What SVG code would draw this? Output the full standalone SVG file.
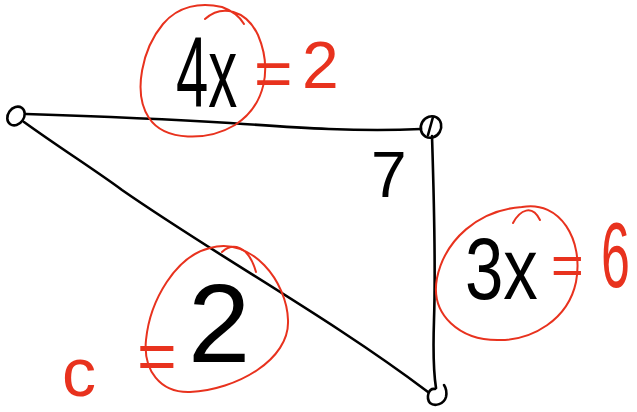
<svg xmlns="http://www.w3.org/2000/svg" width="637" height="412" viewBox="0 0 637 412">
<style>
.ink{fill:none;stroke:#000;stroke-width:2.6;stroke-linecap:round;stroke-linejoin:round}
.red{fill:none;stroke:#e8321e;stroke-width:2;stroke-linecap:round;stroke-linejoin:round}
.bt{font-family:"Liberation Sans",Arial,sans-serif;fill:#000}
.rt{font-family:"Liberation Sans",Arial,sans-serif;fill:#e8321e}
</style>
<rect width="637" height="412" fill="#fff"/>
<g id="connectors">
<path class="ink" d="M26,114 C90,116 150,118 230,123 C300,128 360,132 421,129"/>
<path class="ink" d="M24,122 C60,148 95,170 122,190 C220,258 330,318 428,392"/>
<path class="ink" d="M432,136 C434,200 436,260 434,320 C433,350 434,375 436,388"/>
</g>
<g id="vertex-a"><ellipse class="ink" cx="16" cy="116" rx="10" ry="8" transform="rotate(-55 16 116)"/></g>
<g id="vertex-b"><ellipse class="ink" cx="431" cy="127" rx="11" ry="10" transform="rotate(-60 431 127)"/><path class="ink" d="M433,117 L428,135"/></g>
<g id="vertex-c"><path class="ink" d="M435,389 C428,388 426,398 430,403 C435,407 444,404 446,397 C447,392 446,388 444,385"/></g>
<g id="label-4x">
<path class="red" d="M205,19 C222,4 246,10 258,35 C272,68 266,105 235,125 C208,141 165,142 149,118 C132,92 143,48 163,24 C178,6 200,2 222,7 C233,11 240,17 244,24"/>
<text class="bt" transform="translate(176,107) scale(1,1.72)" font-size="58">4x</text>
<text class="rt" font-size="66"><tspan x="254" y="96">=</tspan><tspan x="302" y="88">2</tspan></text>
</g>
<g id="label-7"><text class="bt" x="371" y="197" font-size="64">7</text></g>
<g id="label-3x">
<path class="red" d="M513,223 C520,210 532,204 540,220"/>
<path class="red" d="M522,207 C560,200 584,240 576,282 C568,320 532,340 500,340 C460,341 430,315 437,278 C445,240 478,210 522,207"/>
<text class="bt" transform="translate(465,299) scale(1,1.26)" font-size="69">3x</text>
<text class="rt" x="551" y="284" font-size="56">=</text>
<text class="rt" transform="translate(601,287) scale(1,1.8)" font-size="52">6</text>
</g>
<g id="label-2">
<path class="red" d="M222,252 C232,243 248,244 256,272"/>
<path class="red" d="M210,248 C252,236 287,282 288,320 C290,360 236,390 190,392 C160,393 143,370 146,340 C150,300 176,256 210,248"/>
<text class="bt" x="188" y="362" font-size="112">2</text>
<text class="rt" x="62" y="396" font-size="68">c</text>
<text class="rt" x="137" y="380" font-size="68">=</text>
</g>
</svg>
